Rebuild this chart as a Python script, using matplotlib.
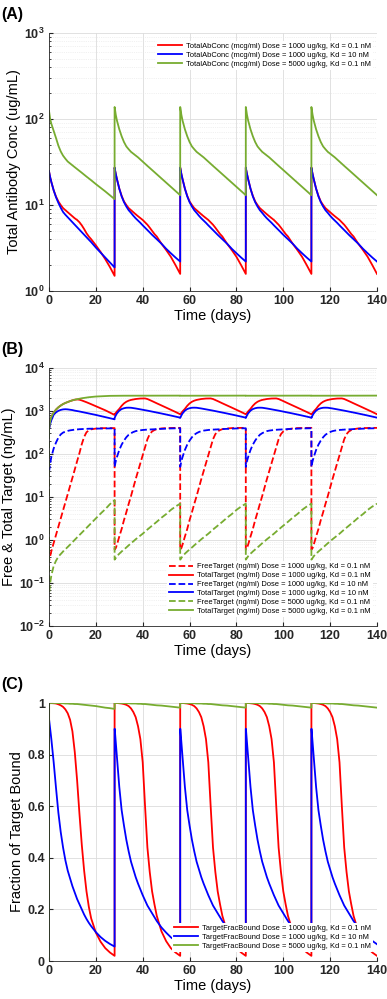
import matplotlib
matplotlib.use("Agg")
import matplotlib.pyplot as plt
import numpy as np

plt.rcParams['font.family'] = ['Liberation Sans', 'DejaVu Sans']
plt.rcParams['mathtext.fontset'] = 'custom'
plt.rcParams['mathtext.rm'] = 'Liberation Sans'
plt.rcParams['mathtext.bf'] = 'Liberation Sans:bold'

# dosing: every 28 days, 5 doses
dose_days = [0, 28, 56, 84, 112]
# sample times inside one dosing interval (days after dose)
cycle_t = [0, 0.05, 0.5, 1, 2, 3, 4, 5, 6, 7, 8, 9, 10, 11, 12, 13, 14, 15, 16, 17, 18, 20, 22, 24, 26, 28]

# ---- (A) total antibody conc (ug/mL) ----
ab_red_first = [24.8, 24.3, 21, 18.5, 14.8, 12.5, 11.0, 10.0, 9.2, 8.7, 8.2, 7.8, 7.4, 7.0, 6.7, 6.3, 5.8, 5.25, 4.7, 4.3, 4.0, 3.4, 2.85, 2.35, 1.9, 1.5]
ab_red_later = [27.2, 26.6, 23, 20, 15.5, 12.8, 11.0, 10.0, 9.2, 8.7, 8.2, 7.8, 7.4, 7.05, 6.7, 6.3, 5.9, 5.45, 5.0, 4.6, 4.3, 3.55, 3.0, 2.5, 2.0, 1.58]
ab_blue_first = [24.8, 24.3, 21, 18.5, 14.8, 12.3, 10.6, 9.3, 8.3, 7.7, 7.2, 6.75, 6.3, 5.9, 5.5, 5.15, 4.8, 4.5, 4.2, 3.95, 3.7, 3.2, 2.8, 2.45, 2.15, 1.88]
ab_blue_later = [27.2, 26.6, 23, 20, 15.5, 12.6, 10.8, 9.6, 8.7, 8.1, 7.5, 7.0, 6.6, 6.2, 5.8, 5.45, 5.1, 4.8, 4.5, 4.25, 4.0, 3.55, 3.1, 2.75, 2.45, 2.2]
ab_green_first = [124, 122, 100, 88, 73, 60, 49, 42, 37.5, 34.5, 32, 30.4, 28.9, 27.5, 26.2, 24.9, 23.7, 22.5, 21.4, 20.4, 19.4, 17.5, 15.9, 14.4, 13.0, 11.7]
ab_green_later = [138, 136, 112, 96, 76, 63, 54, 48, 44.5, 41.5, 39.5, 37.5, 35.8, 33.8, 32.0, 30.2, 28.5, 27.0, 25.5, 24.1, 22.8, 20.3, 18.2, 16.2, 14.5, 13.0]

# ---- (B) free & total target (ng/mL) ----
free_red_first = [330, 0.33, 0.42, 0.55, 0.85, 1.3, 2.0, 3.1, 4.9, 7.6, 11.7, 18, 28, 44, 68, 105, 170, 250, 320, 355, 375, 390, 398, 400, 400, 400]
free_red_later = [0.6, 0.6, 0.65, 0.78, 1.2, 1.8, 2.9, 4.4, 6.9, 10.5, 16.6, 26, 40, 62, 95, 145, 220, 290, 335, 360, 378, 393, 400, 403, 405, 405]
tot_red_first = [330, 400, 580, 720, 920, 1080, 1220, 1340, 1450, 1540, 1620, 1700, 1770, 1830, 1860, 1830, 1760, 1680, 1600, 1520, 1440, 1290, 1160, 1040, 920, 810]
tot_red_later = [840, 850, 900, 980, 1120, 1320, 1500, 1640, 1740, 1810, 1860, 1900, 1930, 1950, 1960, 1960, 1900, 1800, 1700, 1600, 1510, 1350, 1200, 1070, 950, 840]
free_blue_first = [330, 40, 60, 85, 135, 185, 240, 285, 315, 332, 345, 355, 362, 368, 373, 377, 380, 383, 385, 387, 388, 390, 392, 393, 394, 395]
free_blue_later = [50, 52, 68, 85, 124, 165, 205, 245, 280, 305, 325, 340, 350, 356, 362, 366, 369, 371, 373, 376, 380, 385, 390, 393, 395, 397]
tot_blue_first = [330, 380, 500, 610, 820, 930, 1010, 1060, 1090, 1100, 1090, 1070, 1050, 1020, 1000, 975, 950, 925, 900, 880, 855, 810, 765, 720, 680, 640]
tot_blue_later = [690, 700, 790, 880, 1020, 1110, 1160, 1190, 1195, 1190, 1170, 1145, 1120, 1095, 1070, 1045, 1020, 995, 970, 945, 920, 875, 830, 785, 740, 700]
free_green_first = [330, 0.058, 0.1, 0.15, 0.25, 0.33, 0.41, 0.47, 0.54, 0.61, 0.69, 0.78, 0.89, 1.01, 1.15, 1.3, 1.48, 1.68, 1.9, 2.15, 2.45, 3.15, 4.1, 5.2, 6.8, 8.5]
free_green_later = [0.35, 0.35, 0.38, 0.42, 0.48, 0.54, 0.6, 0.67, 0.75, 0.84, 0.93, 1.04, 1.15, 1.27, 1.4, 1.57, 1.75, 1.94, 2.15, 2.4, 2.65, 3.3, 4.0, 5.0, 6.0, 7.0]
tot_green_first = [330, 400, 580, 720, 920, 1080, 1220, 1340, 1450, 1540, 1620, 1700, 1770, 1830, 1880, 1930, 1980, 2020, 2060, 2090, 2120, 2170, 2200, 2230, 2250, 2260]
tot_green_later = [2265, 2265, 2265, 2266, 2266, 2267, 2267, 2268, 2268, 2269, 2269, 2270, 2270, 2271, 2271, 2272, 2272, 2273, 2273, 2274, 2274, 2275, 2276, 2277, 2278, 2280]

# ---- (C) fraction of target bound ----
fb_red_first = [0, 1.0, 1.0, 1.0, 0.999, 0.998, 0.995, 0.991, 0.985, 0.975, 0.96, 0.935, 0.89, 0.81, 0.7, 0.57, 0.45, 0.35, 0.27, 0.21, 0.165, 0.11, 0.075, 0.05, 0.033, 0.02]
fb_red_later = [1.0, 1.0, 1.0, 1.0, 0.999, 0.998, 0.996, 0.993, 0.988, 0.979, 0.965, 0.945, 0.91, 0.86, 0.77, 0.6, 0.44, 0.345, 0.27, 0.22, 0.175, 0.115, 0.077, 0.05, 0.033, 0.02]
fb_blue_first = [0, 0.935, 0.9, 0.86, 0.77, 0.67, 0.575, 0.5, 0.44, 0.39, 0.35, 0.32, 0.29, 0.265, 0.24, 0.22, 0.2, 0.18, 0.163, 0.148, 0.135, 0.112, 0.093, 0.078, 0.066, 0.056]
fb_blue_later = [0.9, 0.9, 0.85, 0.79, 0.675, 0.585, 0.525, 0.47, 0.425, 0.385, 0.355, 0.325, 0.3, 0.277, 0.255, 0.235, 0.215, 0.2, 0.185, 0.17, 0.155, 0.13, 0.11, 0.092, 0.078, 0.065]
fb_green_first = [0, 1.0, 1.0, 1.0, 1.0, 1.0, 0.9995, 0.999, 0.999, 0.998, 0.998, 0.997, 0.997, 0.996, 0.996, 0.995, 0.994, 0.993, 0.992, 0.991, 0.99, 0.988, 0.985, 0.982, 0.98, 0.977]
fb_green_later = [1.0, 1.0, 1.0, 1.0, 1.0, 1.0, 0.9995, 0.999, 0.999, 0.998, 0.998, 0.998, 0.997, 0.997, 0.996, 0.996, 0.995, 0.994, 0.993, 0.992, 0.991, 0.99, 0.988, 0.986, 0.984, 0.982]

lab_a = ['TotalAbConc (mcg/ml) Dose = 1000 ug/kg, Kd = 0.1 nM',
         'TotalAbConc (mcg/ml) Dose = 1000 ug/kg, Kd = 10 nM',
         'TotalAbConc (mcg/ml) Dose = 5000 ug/kg, Kd = 0.1 nM']
lab_b = ['FreeTarget (ng/ml) Dose = 1000 ug/kg, Kd = 0.1 nM',
         'TotalTarget (ng/ml) Dose = 1000 ug/kg, Kd = 0.1 nM',
         'FreeTarget (ng/ml) Dose = 1000 ug/kg, Kd = 10 nM',
         'TotalTarget (ng/ml) Dose = 1000 ug/kg, Kd = 10 nM',
         'FreeTarget (ng/ml) Dose = 5000 ug/kg, Kd = 0.1 nM',
         'TotalTarget (ng/ml) Dose = 5000 ug/kg, Kd = 0.1 nM']
lab_c = ['TargetFracBound Dose = 1000 ug/kg, Kd = 0.1 nM',
         'TargetFracBound Dose = 1000 ug/kg, Kd = 10 nM',
         'TargetFracBound Dose = 5000 ug/kg, Kd = 0.1 nM']

RED = '#ff0000'
BLUE = '#0000ff'
GREEN = '#77ac30'
LW = 1.3
LEG = dict(fontsize=5.4, frameon=True, facecolor='white', edgecolor='none', framealpha=1,
           handlelength=3.2, handletextpad=0.55, labelspacing=0.22, borderpad=0.3)


def build(first, later):
    # stitch the dosing intervals together
    x, y = [], []
    for k, d in enumerate(dose_days):
        vals = first if k == 0 else later
        x += [d + t for t in cycle_t]
        y += vals
    return np.array(x), np.array(y)


def style(ax):
    ax.set_xlim(0, 140)
    ax.set_xticks(range(0, 141, 20))
    for s in ['top', 'right']:
        ax.spines[s].set_visible(False)
    for s in ['left', 'bottom']:
        ax.spines[s].set_color('#262626')
        ax.spines[s].set_linewidth(0.6)
    ax.grid(True, which='major', color='#dcdcdc', lw=0.6)
    ax.tick_params(which='both', direction='in', labelsize=9, pad=3, colors='#262626')
    ax.tick_params(which='major', length=3)
    ax.tick_params(which='minor', length=1.5)
    for t in ax.get_xticklabels() + ax.get_yticklabels():
        t.set_fontweight('bold')
    ax.set_xlabel('Time (days)', fontsize=10.5, labelpad=1)
    ax.set_axisbelow(True)


def log_ticks(ax, lo, hi):
    ax.set_yscale('log')
    ax.set_ylim(10.0 ** lo, 10.0 ** hi)
    ax.set_yticks([10.0 ** e for e in range(lo, hi + 1)],
                  labels=[r'$\mathbf{10^{%d}}$' % e for e in range(lo, hi + 1)])
    ax.grid(True, which='minor', axis='y', color='#e4e4e4', lw=0.5, ls=':')


fig = plt.figure(figsize=(3.87, 9.99), dpi=100)
W, H = 387.0, 999.0
axA = fig.add_axes([49 / W, 1 - 291 / H, 328 / W, 258 / H])
axB = fig.add_axes([49 / W, 1 - 626 / H, 328 / W, 258 / H])
axC = fig.add_axes([49 / W, 1 - 961 / H, 328 / W, 258 / H])

# (A)
for first, later, c, lab in [(ab_red_first, ab_red_later, RED, lab_a[0]),
                             (ab_blue_first, ab_blue_later, BLUE, lab_a[1]),
                             (ab_green_first, ab_green_later, GREEN, lab_a[2])]:
    x, y = build(first, later)
    axA.plot(x, y, color=c, lw=LW, label=lab)
log_ticks(axA, 0, 3)
style(axA)
axA.set_ylabel('Total Antibody Conc (ug/mL)', fontsize=10.5, labelpad=2)
axA.legend(loc='upper right', bbox_to_anchor=(1.0, 0.985), **LEG)

# (B)
series_b = [(free_red_first, free_red_later, RED, '--'),
            (tot_red_first, tot_red_later, RED, '-'),
            (free_blue_first, free_blue_later, BLUE, '--'),
            (tot_blue_first, tot_blue_later, BLUE, '-'),
            (free_green_first, free_green_later, GREEN, '--'),
            (tot_green_first, tot_green_later, GREEN, '-')]
for (first, later, c, ls), lab in zip(series_b, lab_b):
    x, y = build(first, later)
    axB.plot(x, y, color=c, lw=LW, ls=ls, label=lab)
log_ticks(axB, -2, 4)
style(axB)
axB.set_ylabel('Free & Total Target (ng/mL)', fontsize=10.5, labelpad=2)
axB.legend(loc='lower right', bbox_to_anchor=(1.0, 0.02), **LEG)

# (C)
for first, later, c, lab in [(fb_red_first, fb_red_later, RED, lab_c[0]),
                             (fb_blue_first, fb_blue_later, BLUE, lab_c[1]),
                             (fb_green_first, fb_green_later, GREEN, lab_c[2])]:
    x, y = build(first, later)
    axC.plot(x, y, color=c, lw=LW, label=lab)
axC.set_ylim(0, 1)
axC.set_yticks([0, 0.2, 0.4, 0.6, 0.8, 1.0], labels=['0', '0.2', '0.4', '0.6', '0.8', '1'])
style(axC)
axC.set_ylabel('Fraction of Target Bound', fontsize=10.5, labelpad=2)
axC.legend(loc='lower right', bbox_to_anchor=(1.0, 0.02), **LEG)

for ax, tag in [(axA, '(A)'), (axB, '(B)'), (axC, '(C)')]:
    ax.text(-48 / 328, 1 + 18 / 258, tag, transform=ax.transAxes, fontsize=11.5,
            fontweight='bold', ha='left', va='center')

fig.savefig('out.png', dpi=100)
